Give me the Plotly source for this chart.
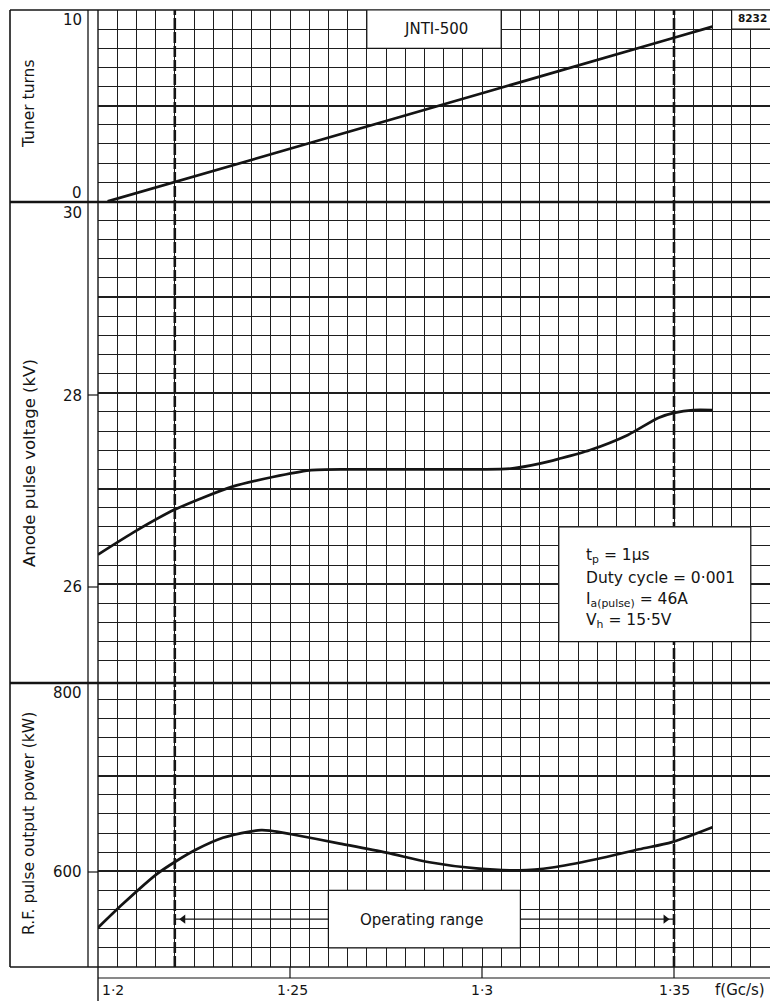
import plotly.graph_objects as go
from plotly.subplots import make_subplots

# ---------------- data ----------------
freq_tuner = [1.2025, 1.22, 1.25, 1.30, 1.35, 1.36]
tuner_turns = [0.0, 1.02, 2.75, 5.65, 8.55, 9.13]

freq_anode = [1.200, 1.210, 1.220, 1.235, 1.2455, 1.255, 1.265, 1.280, 1.300,
              1.308, 1.315, 1.320, 1.328, 1.338, 1.346, 1.350, 1.355, 1.360]
anode_kv = [26.31, 26.56, 26.78, 27.02, 27.12, 27.19, 27.20, 27.20, 27.20,
            27.21, 27.26, 27.31, 27.40, 27.56, 27.74, 27.79, 27.82, 27.82]

freq_power = [1.200, 1.2065, 1.2153, 1.2203, 1.2257, 1.2325, 1.2395, 1.2425, 1.2447,
              1.250, 1.263, 1.2751, 1.2863, 1.2985, 1.3097, 1.3183, 1.3297,
              1.3409, 1.3495, 1.360]
power_kw = [541, 566, 597, 610.5, 623, 635, 641.5, 643, 642.5,
            639, 629, 619.5, 609.5, 603, 601, 604, 612.6,
            623, 630.5, 646]

op_range = [1.22, 1.35]
op_range_level = 550
x_tick_vals = [1.2, 1.25, 1.3, 1.35]
x_tick_text = ["1·2", "1·25", "1·3", "1·35"]
param_lines = ["t<sub>p</sub> = 1μs", "Duty cycle = 0·001",
               "I<sub>a(pulse)</sub> = 46A", "V<sub>h</sub> = 15·5V"]

# ---------------- layout geometry ----------------
W, H = 770, 1001
PL, PT, PR, PB = 98, 10, 0, 34
PW, PH = W - PL - PR, H - PT - PB


def px(x):
    return (x - PL) / PW


def py(y):
    return (PT + PH - y) / PH


INK = "#141414"
FONT = "DejaVu Sans"

fig = make_subplots(rows=3, cols=1, shared_xaxes=True, vertical_spacing=0,
                    row_heights=[0.2, 0.5, 0.3])

fig.add_trace(go.Scatter(x=freq_tuner, y=tuner_turns, mode="lines",
                         line=dict(color=INK, width=2.7), showlegend=False), row=1, col=1)
fig.add_trace(go.Scatter(x=freq_anode, y=anode_kv, mode="lines",
                         line=dict(color=INK, width=2.7, shape="spline", smoothing=0.7),
                         showlegend=False), row=2, col=1)
fig.add_trace(go.Scatter(x=freq_power, y=power_kw, mode="lines",
                         line=dict(color=INK, width=2.7, shape="spline", smoothing=0.8),
                         showlegend=False), row=3, col=1)
# operating-range arrowheads (pointing outward to the dashed limits)
fig.add_trace(go.Scatter(x=[op_range[0] + 0.0022, op_range[1] - 0.0022],
                         y=[op_range_level, op_range_level], mode="markers",
                         marker=dict(symbol=["triangle-left", "triangle-right"], size=8,
                                     color=INK, line=dict(width=0)),
                         showlegend=False, hoverinfo="skip"), row=3, col=1)

grid = "#1e1e1e"
for r in (1, 2, 3):
    fig.update_xaxes(range=[1.2, 1.375], showticklabels=False, ticks="",
                     showgrid=True, dtick=0.05, tick0=1.2, gridcolor=grid, gridwidth=1.2,
                     minor=dict(dtick=0.005, tick0=1.2, showgrid=True, gridcolor=grid, gridwidth=1.2),
                     zeroline=False, showline=False, row=r, col=1)

fig.update_yaxes(range=[0, 10], dtick=5, tick0=0, row=1, col=1,
                 minor=dict(dtick=1, tick0=0, showgrid=True, gridcolor=grid, gridwidth=1.2))
fig.update_yaxes(range=[25, 30], dtick=1, tick0=25, row=2, col=1,
                 minor=dict(dtick=0.2, tick0=25, showgrid=True, gridcolor=grid, gridwidth=1.2))
fig.update_yaxes(range=[500, 800], dtick=100, tick0=500, row=3, col=1,
                 minor=dict(dtick=20, tick0=500, showgrid=True, gridcolor=grid, gridwidth=1.2))
fig.update_yaxes(showticklabels=False, ticks="", showgrid=True, gridcolor=grid, gridwidth=2,
                 zeroline=False, showline=False)

shapes = []


def pline(x0, y0, x1, y1, w=1.3):
    shapes.append(dict(type="line", xref="paper", yref="paper", x0=x0, y0=y0, x1=x1, y1=y1,
                       line=dict(color=INK, width=w), layer="above"))


# frame
pline(px(10), py(10), px(770), py(10), 1.6)
pline(px(10), py(10), px(10), py(967), 1.6)
pline(px(88), py(10), px(88), py(967), 1.3)
pline(px(10), py(202), px(770), py(202), 2.4)
pline(px(10), py(683), px(770), py(683), 2.4)
pline(px(10), py(967), px(770), py(967), 1.6)
pline(px(98), py(978), px(770), py(978), 1.2)
pline(0, 1, 0, py(1001), 1.4)
# y tick marks in the gap
for yy in (395, 587, 872):
    pline(px(88), py(yy), 0, py(yy), 1.2)
# x ticks extended below the grid
for xv in x_tick_vals[1:]:
    shapes.append(dict(type="line", xref="x3", yref="paper", x0=xv, x1=xv, y0=0, y1=py(978),
                       line=dict(color=INK, width=1.2), layer="above"))
# operating range dashed verticals
for xv in op_range:
    shapes.append(dict(type="line", xref="x3", yref="paper", x0=xv, x1=xv, y0=0, y1=1,
                       line=dict(color=INK, width=2.6, dash="11px,3px"), layer="above"))
# white boxes
shapes.append(dict(type="rect", xref="x", yref="y", x0=1.27, x1=1.305, y0=8, y1=10,
                   fillcolor="white", line=dict(color=INK, width=1.2), layer="above"))
shapes.append(dict(type="rect", xref="x", yref="y", x0=1.365, x1=1.376, y0=9, y1=10,
                   fillcolor="white", line=dict(color=INK, width=1.2), layer="above"))
shapes.append(dict(type="rect", xref="x2", yref="y2", x0=1.32, x1=1.37, y0=25.4, y1=26.6,
                   fillcolor="white", line=dict(color=INK, width=1.2), layer="above"))
shapes.append(dict(type="rect", xref="x3", yref="y3", x0=1.26, x1=1.31, y0=520, y1=580,
                   fillcolor="white", line=dict(color=INK, width=1.2), layer="above"))
# operating range arrow shafts
for x0, x1 in [(op_range[0], 1.26), (1.31, op_range[1])]:
    shapes.append(dict(type="line", xref="x3", yref="y3", x0=x0, x1=x1,
                       y0=op_range_level, y1=op_range_level,
                       line=dict(color=INK, width=1.1), layer="above"))

ann = []


def ptext(text, x, y, size=15, xanchor="center", angle=0, bold=False):
    ann.append(dict(text=("<b>%s</b>" % text) if bold else text, xref="paper", yref="paper",
                    x=x, y=y, xanchor=xanchor, yanchor="middle", showarrow=False,
                    textangle=angle, font=dict(family=FONT, size=size, color=INK)))


ptext("Tuner turns", px(29), py(104), 15.5, angle=-90)
ptext("Anode pulse voltage (kV)", px(29), py(463), 16.5, angle=-90)
ptext("R.F. pulse output power (kW)", px(29), py(824), 15.5, angle=-90)
for t, yy in [("10", 20), ("0", 193), ("30", 213), ("28", 396), ("26", 587),
              ("800", 693), ("600", 872)]:
    ptext(t, px(84), py(yy), 15, xanchor="right")
ptext(x_tick_text[0], px(100), py(990), 14, xanchor="left")
for t, xx in zip(x_tick_text[1:], [292, 482, 674]):
    ptext(t, px(xx), py(990), 14)
ptext("f(Gc/s)", px(740), py(990), 15)
ptext("JNTI-500", px(436), py(29), 15)
ptext("8232", px(752), py(18), 10.5, bold=True)
for t, yy in zip(param_lines, [556, 578, 600, 621]):
    ptext(t, px(584), py(yy), 15.5, xanchor="left")
ptext("Operating range", px(421), py(920), 15)

fig.update_layout(width=W, height=H, margin=dict(l=PL, r=PR, t=PT, b=PB),
                  paper_bgcolor="white", plot_bgcolor="white",
                  shapes=shapes, annotations=ann, showlegend=False,
                  font=dict(family=FONT, color=INK))

fig.write_html("out.html", config={"displayModeBar": False},
               post_script="document.body.style.margin='0px';document.body.style.overflow='hidden';")
